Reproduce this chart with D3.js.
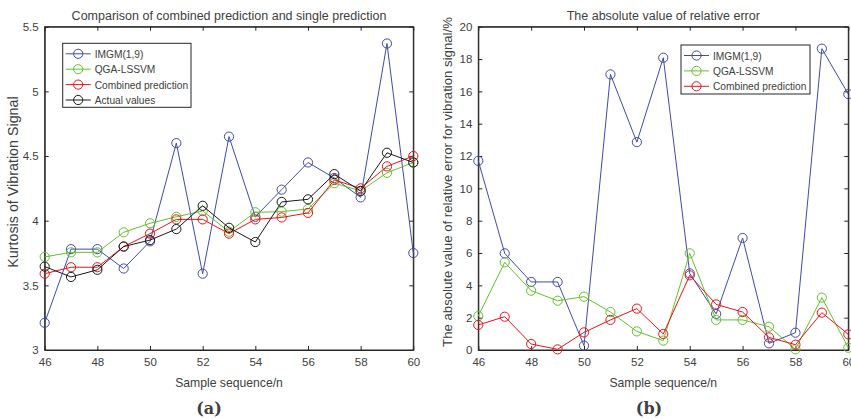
<!DOCTYPE html>
<html>
<head>
<meta charset="utf-8">
<script src="https://cdn.jsdelivr.net/npm/d3@7"></script>
<style>
body{margin:0;background:#fff;}
text{font-family:"Liberation Sans",Arial,sans-serif;fill:#404040;}
</style>
</head>
<body>
<div id="chart"></div>
<script>
var samples = [46,47,48,49,50,51,52,53,54,55,56,57,58,59,60]

// (a) kurtosis
var imgm = [3.21,3.78,3.78,3.63,3.84,4.60,3.59,4.65,4.03,4.24,4.45,4.33,4.18,5.37,3.75]
var qga = [3.72,3.755,3.755,3.91,3.98,4.03,4.075,3.915,4.065,4.07,4.09,4.29,4.23,4.37,4.45]
var combined = [3.59,3.64,3.64,3.80,3.90,4.01,4.01,3.90,4.01,4.025,4.06,4.315,4.25,4.42,4.50]
var actual = [3.645,3.565,3.62,3.80,3.85,3.935,4.115,3.945,3.835,4.145,4.165,4.36,4.23,4.525,4.45]

// (b) relative error %
var errImgm = [11.7,5.98,4.21,4.21,0.27,17.05,12.86,18.08,4.74,2.23,6.93,0.41,1.07,18.64,15.83]
var errQga = [2.1,5.42,3.67,3.05,3.3,2.35,1.15,0.58,5.98,1.86,1.86,1.44,0.04,3.24,0.14]
var errComb = [1.55,2.06,0.37,0.04,1.09,1.86,2.56,0.99,4.62,2.82,2.35,0.78,0.33,2.31,0.97]

var blue = "#3f4ca8", green = "#63c12b", red = "#e8141c", black = "#1a1a1a"

var svg = d3.select("#chart").append("svg")
.attr("width",851)
.attr("height",419)

function panel(opt){
    var x = d3.scaleLinear().domain([46,60]).range([opt.left,opt.right])
    var y = d3.scaleLinear().domain(opt.yDomain).range([350,26.7])
    var g = svg.append("g")

    g.append("rect")
    .attr("x",opt.left).attr("y",26.7)
    .attr("width",opt.right-opt.left).attr("height",350-26.7)
    .attr("fill","none").attr("stroke","#262626").attr("stroke-width",1)

    var xt = d3.range(46,61,2)
    var xAxis = d3.axisBottom(x).tickValues(xt).tickSizeInner(-4).tickSizeOuter(0).tickPadding(8)
    var ga = g.append("g").attr("transform","translate(0,350)").call(xAxis)
    var gt = g.append("g").attr("transform","translate(0,26.7)").call(d3.axisTop(x).tickValues(xt).tickSizeInner(-4).tickSizeOuter(0).tickFormat(""))
    var yAxis = d3.axisLeft(y).tickValues(opt.yTicks).tickSizeInner(-4).tickSizeOuter(0).tickPadding(6).tickFormat(opt.fmt)
    var gy = g.append("g").attr("transform","translate("+opt.left+",0)").call(yAxis)
    var gr = g.append("g").attr("transform","translate("+opt.right+",0)").call(d3.axisRight(y).tickValues(opt.yTicks).tickSizeInner(-4).tickSizeOuter(0).tickFormat(""))
    ;[ga,gt,gy,gr].forEach(function(a){
        a.select(".domain").attr("stroke","#262626")
        a.selectAll(".tick line").attr("stroke","#262626")
        a.selectAll(".tick text").attr("fill","#404040").style("font-size","11.5px").style("font-family","Liberation Sans, Arial, sans-serif")
    })

    opt.series.forEach(function(s){
        var line = d3.line()
        .x(function(d,i){return x(samples[i])})
        .y(function(d){return y(d)})
        g.append("path").datum(s.data)
        .attr("d",line).attr("fill","none").attr("stroke",s.color).attr("stroke-width",1)
        g.selectAll(null).data(s.data).enter().append("circle")
        .attr("cx",function(d,i){return x(samples[i])})
        .attr("cy",function(d){return y(d)})
        .attr("r",4.6).attr("fill","none").attr("stroke",s.color).attr("stroke-width",1)
    })

    g.append("text").text(opt.title)
    .attr("x",(opt.left+opt.right)/2).attr("y",20)
    .attr("text-anchor","middle").style("font-size","12.5px").attr("fill","#262626")

    g.append("text").text("Sample sequence/n")
    .attr("x",(opt.left+opt.right)/2).attr("y",387)
    .attr("text-anchor","middle").style("font-size","12.2px")

    g.append("text").text(opt.yLabel)
    .attr("transform","translate("+opt.yLabelX+",182) rotate(-90)")
    .attr("text-anchor","middle").style("font-size",opt.yLabelSize)

    g.append("text").text(opt.caption)
    .attr("x",opt.capX).attr("y",414)
    .attr("text-anchor","middle")
    .style("font-family","DejaVu Serif, serif").style("font-weight","bold").style("font-size","16px")
    .attr("fill","#111")

    // legend
    var L = opt.legend
    g.append("rect").attr("x",L.x).attr("y",L.y).attr("width",L.w).attr("height",L.h)
    .attr("fill","#fff").attr("stroke","#262626").attr("stroke-width",1)
    opt.series.forEach(function(s,i){
        var yy = L.y + 10.5 + i*15.4
        g.append("line").attr("x1",L.x+3).attr("x2",L.x+28).attr("y1",yy).attr("y2",yy)
        .attr("stroke",s.color).attr("stroke-width",1)
        g.append("circle").attr("cx",L.x+15.5).attr("cy",yy).attr("r",4.6)
        .attr("fill","none").attr("stroke",s.color).attr("stroke-width",1)
        g.append("text").text(s.name).attr("x",L.x+32).attr("y",yy+4)
        .style("font-size","10.2px").attr("fill","#262626")
    })
}

panel({
    left:44.7, right:413.3, yDomain:[3,5.5], yTicks:[3,3.5,4,4.5,5,5.5],
    fmt:function(d){return d},
    title:"Comparison of combined prediction and single prediction",
    yLabel:"Kurtosis of Vibration Signal", yLabelX:18, yLabelSize:"14.3px",
    caption:"(a)", capX:209,
    legend:{x:62.7,y:43.3,w:128.3,h:64},
    series:[
        {name:"IMGM(1,9)",data:imgm,color:blue},
        {name:"QGA-LSSVM",data:qga,color:green},
        {name:"Combined prediction",data:combined,color:red},
        {name:"Actual values",data:actual,color:black}
    ]
})

panel({
    left:478.3, right:848.3, yDomain:[0,20], yTicks:d3.range(0,21,2),
    fmt:function(d){return d},
    title:"The absolute value of relative error",
    yLabel:"The absolute value of relative error for vibration signal/%", yLabelX:452, yLabelSize:"13.2px",
    caption:"(b)", capX:649,
    legend:{x:681,y:45,w:129,h:49},
    series:[
        {name:"IMGM(1,9)",data:errImgm,color:blue},
        {name:"QGA-LSSVM",data:errQga,color:green},
        {name:"Combined prediction",data:errComb,color:red}
    ]
})
</script>
</body>
</html>
